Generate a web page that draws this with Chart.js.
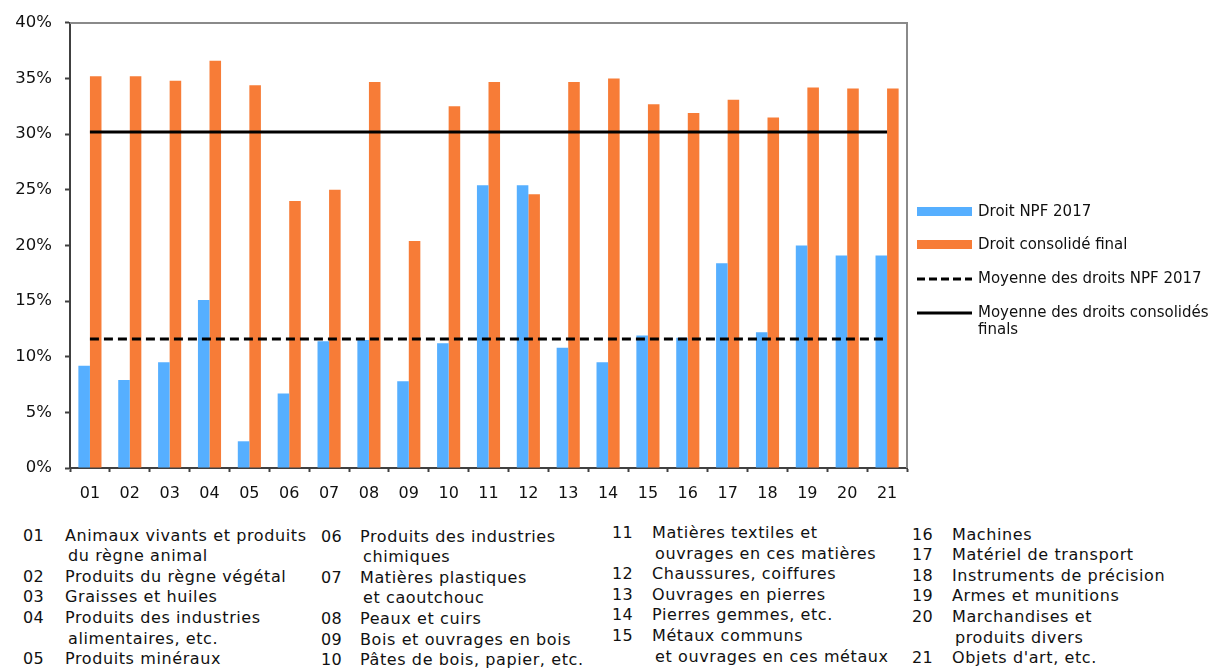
<!DOCTYPE html>
<html lang="fr">
<head>
<meta charset="utf-8">
<title>Droits NPF 2017 et droits consolidés finals par section</title>
<script src="https://cdn.jsdelivr.net/npm/chart.js@4/dist/chart.umd.min.js"></script>
<style>
    body {
        margin: 0;
        background: #ffffff;
        font-family: "DejaVu Sans", Verdana, sans-serif;
        color: #111111;
    }
    #wrap {
        position: relative;
        width: 1213px;
        height: 669px;
        overflow: hidden;
    }
    #chart {
        position: absolute;
        left: 0;
        top: 0;
    }
    .legend-item {
        position: absolute;
        left: 917px;
        font-size: 15px;
        line-height: 17px;
    }
    .legend-item .key {
        position: absolute;
        left: 0;
        width: 55px;
    }
    .legend-item .label {
        position: absolute;
        left: 61px;
        white-space: nowrap;
    }
    .notes {
        position: absolute;
        font-size: 16px;
        letter-spacing: 0.6px;
        line-height: 20.6px;
        white-space: nowrap;
    }
    .notes .num {
        display: inline-block;
        letter-spacing: 0.3px;
    }
</style>
</head>
<body>
<div id="wrap">
    <canvas id="chart" width="920" height="510"></canvas>
    <div id="legend"></div>
    <div id="notes"></div>
</div>
<script>
// Sections du SH
var codes = ['01', '02', '03', '04', '05', '06', '07', '08', '09', '10', '11',
    '12', '13', '14', '15', '16', '17', '18', '19', '20', '21'];

// Moyennes simples par section (%)
var droitNpf2017 = [9.2, 7.9, 9.5, 15.1, 2.4, 6.7, 11.4, 11.5, 7.8, 11.2, 25.4,
    25.4, 10.8, 9.5, 11.9, 11.7, 18.4, 12.2, 20.0, 19.1, 19.1];
var droitConsolideFinal = [35.2, 35.2, 34.8, 36.6, 34.4, 24.0, 25.0, 34.7, 20.4, 32.5, 34.7,
    24.6, 34.7, 35.0, 32.7, 31.9, 33.1, 31.5, 34.2, 34.1, 34.1];

// Moyennes globales
var moyenneNpf2017 = 11.6;
var moyenneConsolideFinal = 30.2;

// Axe des y
var yTickValues = [0, 5, 10, 15, 20, 25, 30, 35, 40];

var seriesLabels = ['Droit NPF 2017', 'Droit consolidé final',
    'Moyenne des droits NPF 2017', 'Moyenne des droits consolidés finals'];

// Libellés des sections, une entrée par ligne de texte
var sectionNames = [
    ['Animaux vivants et produits', 'du règne animal'],
    ['Produits du règne végétal'],
    ['Graisses et huiles'],
    ['Produits des industries', 'alimentaires, etc.'],
    ['Produits minéraux'],
    ['Produits des industries', 'chimiques'],
    ['Matières plastiques', 'et caoutchouc'],
    ['Peaux et cuirs'],
    ['Bois et ouvrages en bois'],
    ['Pâtes de bois, papier, etc.'],
    ['Matières textiles et', 'ouvrages en ces matières'],
    ['Chaussures, coiffures'],
    ['Ouvrages en pierres'],
    ['Pierres gemmes, etc.'],
    ['Métaux communs', 'et ouvrages en ces métaux'],
    ['Machines'],
    ['Matériel de transport'],
    ['Instruments de précision'],
    ['Armes et munitions'],
    ['Marchandises et', 'produits divers'],
    ['Objets d\'art, etc.']
];

var blue = '#56AFFF';
var orange = '#F77C37';
var axisFont = {family: '"DejaVu Sans", Verdana, sans-serif', size: 16};

// cadre gris en haut et à droite de la zone de tracé
var frame = {
    id: 'frame',
    afterDraw: function (chart) {
        var a = chart.chartArea;
        var ctx = chart.ctx;
        ctx.save();
        ctx.strokeStyle = '#8a8a8a';
        ctx.lineWidth = 2;
        ctx.beginPath();
        ctx.moveTo(a.left, a.top);
        ctx.lineTo(a.right, a.top);
        ctx.lineTo(a.right, a.bottom);
        ctx.stroke();
        ctx.restore();
    }
};

new Chart(document.getElementById('chart').getContext('2d'), {
    type: 'bar',
    data: {
        labels: codes,
        datasets: [
            {
                label: seriesLabels[0],
                data: droitNpf2017,
                backgroundColor: blue,
                borderWidth: 0,
                order: 2
            },
            {
                label: seriesLabels[1],
                data: droitConsolideFinal,
                backgroundColor: orange,
                borderWidth: 0,
                order: 2
            },
            {
                type: 'line',
                label: seriesLabels[2],
                data: [{x: codes[0], y: moyenneNpf2017}, {x: codes[codes.length - 1], y: moyenneNpf2017}],
                borderColor: '#000000',
                borderWidth: 3,
                borderDash: [9, 5],
                pointRadius: 0,
                fill: false,
                order: 1
            },
            {
                type: 'line',
                label: seriesLabels[3],
                data: [{x: codes[0], y: moyenneConsolideFinal}, {x: codes[codes.length - 1], y: moyenneConsolideFinal}],
                borderColor: '#000000',
                borderWidth: 3,
                pointRadius: 0,
                fill: false,
                order: 1
            }
        ]
    },
    options: {
        responsive: false,
        animation: false,
        layout: {padding: {left: 0, top: 19, right: 13, bottom: 0}},
        datasets: {
            bar: {categoryPercentage: 0.58, barPercentage: 1.0}
        },
        plugins: {
            legend: {display: false},
            tooltip: {enabled: false}
        },
        scales: {
            x: {
                offset: true,
                grid: {
                    offset: true,
                    drawOnChartArea: false,
                    drawTicks: true,
                    tickLength: 4,
                    tickColor: '#404040',
                    tickWidth: 2
                },
                border: {color: '#404040', width: 2},
                ticks: {color: '#111111', font: axisFont, padding: 12, maxRotation: 0},
                afterFit: function (scale) {
                    scale.height = 42;
                }
            },
            y: {
                min: yTickValues[0],
                max: yTickValues[yTickValues.length - 1],
                afterBuildTicks: function (scale) {
                    scale.ticks = yTickValues.map(function (v) {
                        return {value: v};
                    });
                },
                grid: {
                    drawOnChartArea: false,
                    drawTicks: true,
                    tickLength: 5,
                    tickColor: '#404040',
                    tickWidth: 2
                },
                border: {color: '#404040', width: 2},
                ticks: {
                    color: '#111111',
                    font: {family: axisFont.family, size: 16.5},
                    padding: 13,
                    callback: function (value) {
                        return value + '%';
                    }
                },
                afterFit: function (scale) {
                    scale.width = 70;
                }
            }
        }
    },
    plugins: [frame]
});

// légende à droite
var legendKeys = [
    '<svg width="55" height="9"><rect x="0" y="0" width="55" height="9" fill="' + blue + '"/></svg>',
    '<svg width="55" height="9"><rect x="0" y="0" width="55" height="9" fill="' + orange + '"/></svg>',
    '<svg width="55" height="4"><line x1="0" y1="2" x2="55" y2="2" stroke="#000" stroke-width="3" stroke-dasharray="8,4"/></svg>',
    '<svg width="55" height="4"><line x1="0" y1="2" x2="55" y2="2" stroke="#000" stroke-width="3"/></svg>'
];
var legendRows = [
    {center: 211.5, keyTop: 207, text: seriesLabels[0]},
    {center: 244, keyTop: 240, text: seriesLabels[1]},
    {center: 278, keyTop: 276, text: seriesLabels[2]},
    {center: 312, keyTop: 310, text: 'Moyenne des droits consolidés<br>finals'}
];
var legendHtml = '';
legendRows.forEach(function (row, i) {
    legendHtml += '<div class="legend-item" style="top:0">' +
        '<div class="key" style="top:' + row.keyTop + 'px;line-height:0">' + legendKeys[i] + '</div>' +
        '<div class="label" style="top:' + (row.center - 8.5) + 'px">' + row.text + '</div>' +
        '</div>';
});
document.getElementById('legend').innerHTML = legendHtml;

// liste des sections sous le graphique, en quatre colonnes
var noteColumns = [
    {from: 0, to: 5, left: 23, top: 525.7, numWidth: 42},
    {from: 5, to: 10, left: 321, top: 526.7, numWidth: 39},
    {from: 10, to: 15, left: 612, top: 523, numWidth: 40},
    {from: 15, to: 21, left: 912, top: 524.7, numWidth: 40}
];
var notesHtml = '';
noteColumns.forEach(function (col) {
    notesHtml += '<div class="notes" style="left:' + col.left + 'px;top:' + col.top + 'px">';
    for (var i = col.from; i < col.to; i++) {
        sectionNames[i].forEach(function (line, j) {
            if (j === 0) {
                notesHtml += '<div><span class="num" style="width:' + col.numWidth + 'px">' +
                    codes[i] + '</span>' + line + '</div>';
            } else {
                notesHtml += '<div style="padding-left:' + (col.numWidth + 3) + 'px">' + line + '</div>';
            }
        });
    }
    notesHtml += '</div>';
});
document.getElementById('notes').innerHTML = notesHtml;
</script>
</body>
</html>
